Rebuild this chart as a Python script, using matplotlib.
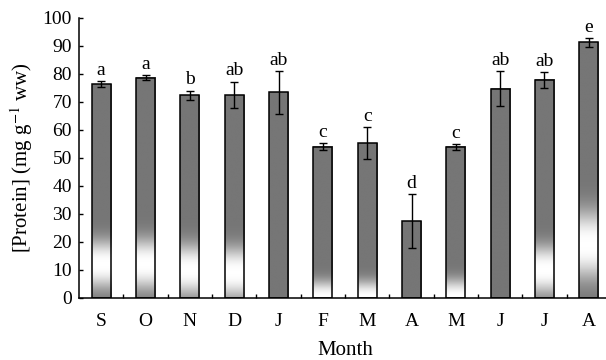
import numpy as np
import matplotlib.pyplot as plt
from matplotlib.colors import LinearSegmentedColormap

months = ['S', 'O', 'N', 'D', 'J', 'F', 'M', 'A', 'M', 'J', 'J', 'A']
protein = [76.4, 78.7, 72.4, 72.5, 73.4, 54.1, 55.3, 27.5, 54.0, 74.8, 77.9, 91.3]
errors = [1.0, 0.8, 1.7, 4.8, 7.8, 1.4, 5.6, 9.6, 1.0, 6.1, 2.9, 1.7]
letters = ['a', 'a', 'b', 'ab', 'ab', 'c', 'c', 'd', 'c', 'ab', 'ab', 'e']

# white streak near bar bottoms (centre, spread), in data units; 0 = none
glow_centre = [12, 12, 10, 9, 0, 0, 0, 0, 0, 0, 10, 19]
glow_spread = [8.5, 9, 9, 9, 0, 6, 6, 0, 6.5, 0, 8.5, 12]


def main():
    plt.rcParams['font.family'] = ['Liberation Serif', 'DejaVu Serif']
    plt.rcParams['mathtext.fontset'] = 'stix'

    fig = plt.figure(figsize=(6.06, 3.6), dpi=100)
    ax = fig.add_axes([79 / 606, 62 / 360, 532 / 606, 280 / 360])

    grey = '#767676'
    cmap = LinearSegmentedColormap.from_list('g', [grey, '#ffffff'])
    width = 0.43
    x = np.arange(len(months))

    for i, h in enumerate(protein):
        y = np.linspace(h, 0, 400)
        if glow_spread[i] > 0:
            d = np.abs(y - glow_centre[i]) / glow_spread[i]
            w = np.exp(-d ** 2.5)
        else:
            w = np.zeros_like(y)
        ax.imshow(w.reshape(-1, 1), cmap=cmap, vmin=0, vmax=1, aspect='auto',
                  extent=[x[i] - width / 2, x[i] + width / 2, 0, h], zorder=2,
                  interpolation='bilinear')

    ax.bar(x, protein, width=width, fill=False, edgecolor='black', linewidth=1.1, zorder=3)
    ax.errorbar(x, protein, yerr=errors, fmt='none', ecolor='black', elinewidth=1.0,
                capsize=3, capthick=1.0, zorder=4)

    for i in range(len(months)):
        ax.annotate(letters[i], (x[i], protein[i] + errors[i]), xytext=(0, 1.5),
                    textcoords='offset points', ha='center', va='bottom', fontsize=14)

    ax.set_xlim(-0.5, len(months) - 0.5)
    ax.set_ylim(0, 100)
    ax.set_yticks(range(0, 101, 10))
    ax.set_xticks(x)
    ax.set_xticklabels(months)
    ax.set_xticks(x[:-1] + 0.5, minor=True)
    ax.tick_params(axis='x', which='major', length=0, pad=11, labelsize=14)
    ax.tick_params(axis='x', which='minor', direction='in', length=3, width=1)
    ax.tick_params(axis='y', direction='in', length=3, width=1, pad=5, labelsize=14)

    for s in ['top', 'right']:
        ax.spines[s].set_visible(False)
    ax.spines['left'].set_linewidth(1.1)
    ax.spines['bottom'].set_linewidth(1.1)

    ax.set_xlabel('Month', fontsize=15)
    ax.xaxis.set_label_coords(0.5, -0.155)
    ax.set_ylabel('[Protein] (mg g$^{-1}$ ww)', fontsize=15)
    ax.yaxis.set_label_coords(-0.083, 0.5)

    fig.savefig('out.png', dpi=100)


if __name__ == "__main__":
    main()
